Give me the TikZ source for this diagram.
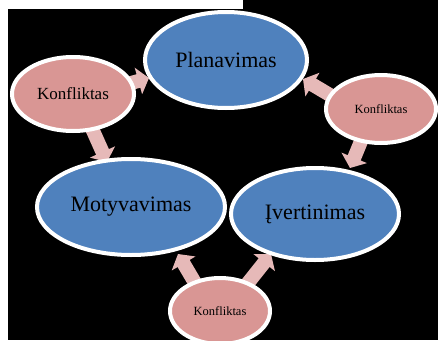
\documentclass[tikz,border=0pt]{standalone}
\usepackage{fontspec}
\setmainfont{Liberation Serif}
\usetikzlibrary{shapes.geometric,arrows.meta,backgrounds}
\definecolor{blueF}{HTML}{4F81BD}
\definecolor{pinkF}{HTML}{D99694}
\definecolor{arrowF}{HTML}{E6B9B8}
\tikzset{
  oval/.style={ellipse, draw=white, line width=4pt, inner sep=0pt, text=black},
  mainoval/.style={oval, fill=blueF, font=\fontsize{22}{24}\selectfont},
  konf/.style={oval, fill=pinkF},
  blockarrow/.style={draw=arrowF, line width=14pt,
    -{Triangle[length=11pt,width=27pt,fill=arrowF,color=arrowF]}}
}
\begin{document}
\begin{tikzpicture}[x=1pt,y=-1pt]
\useasboundingbox (0,0) rectangle (438,340);
\fill[white] (0,0) rectangle (438,340);
\fill[black] (8,9) rectangle (438,340);
\fill[black] (243,0) rectangle (438,9);

% arrow end points
\coordinate (a1s) at (124,85);  \coordinate (a1e) at (149,78);
\coordinate (a2s) at (90,124);  \coordinate (a2e) at (107,162);
\coordinate (a3s) at (340,101); \coordinate (a3e) at (303,79);
\coordinate (a4s) at (364,134); \coordinate (a4e) at (350,168);
\coordinate (a5s) at (201,293); \coordinate (a5e) at (178,254);
\coordinate (a6s) at (240,293); \coordinate (a6e) at (271,254);

\draw[blockarrow] (a1s) -- (a1e);
\draw[blockarrow] (a2s) -- (a2e);
\draw[blockarrow] (a3s) -- (a3e);
\draw[blockarrow] (a4s) -- (a4e);
\draw[blockarrow] (a5s) -- (a5e);
\draw[blockarrow] (a6s) -- (a6e);

\node[mainoval, minimum width=162pt, minimum height=96pt] (plan) at (226,60) {Planavimas};
\node[mainoval, minimum width=188pt, minimum height=96pt] (moty) at (131,207) {Motyvavimas};
\node[mainoval, minimum width=168pt, minimum height=92pt] (iver) at (315,214) {Įvertinimas};
\node[konf, minimum width=122pt, minimum height=74pt, font=\fontsize{17}{19}\selectfont] (k1) at (73,94) {Konfliktas};
\node[konf, minimum width=110pt, minimum height=68pt, font=\fontsize{12.5}{14}\selectfont] (k2) at (381,109) {Konfliktas};
\node[konf, minimum width=100pt, minimum height=66pt, font=\fontsize{12.5}{14}\selectfont] (k3) at (220,311) {Konfliktas};
\end{tikzpicture}
\end{document}
